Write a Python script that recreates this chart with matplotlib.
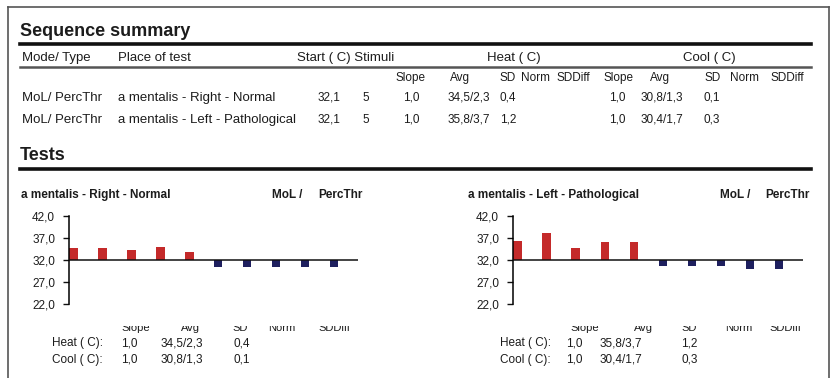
import matplotlib
matplotlib.use("Agg")
import matplotlib.pyplot as plt
from matplotlib.lines import Line2D
from matplotlib.patches import Rectangle
from matplotlib.ticker import FuncFormatter

plt.rcParams['font.family'] = ['Liberation Sans', 'DejaVu Sans']

# --- data ---
mode_types = ["MoL/ PercThr", "MoL/ PercThr"]
places = ["a mentalis - Right - Normal", "a mentalis - Left - Pathological"]
start_temp = ["32,1", "32,1"]
stimuli = ["5", "5"]
heat_slope = ["1,0", "1,0"]
heat_avg = ["34,5/2,3", "35,8/3,7"]
heat_sd = ["0,4", "1,2"]
cool_slope = ["1,0", "1,0"]
cool_avg = ["30,8/1,3", "30,4/1,7"]
cool_sd = ["0,1", "0,3"]

sub_headers = ["Slope", "Avg", "SD", "Norm", "SDDiff"]
y_ticks = [22.0, 27.0, 32.0, 37.0, 42.0]
baseline = 32.0

# bar values
normal_heat = [34.8, 34.8, 34.2, 34.9, 33.8]
normal_cool = [30.4, 30.4, 30.4, 30.4, 30.4]
patho_heat = [36.3, 38.1, 34.8, 36.0, 36.0]
patho_cool = [30.6, 30.6, 30.6, 30.0, 30.0]

W, H = 838, 378
RED = "#c42a2a"
NAVY = "#1e1f5e"
TXT = "#1c1c1c"


def fx(px):
    return px / W


def fy(py):
    return 1 - py / H


fig = plt.figure(figsize=(W / 100, H / 100), dpi=100)


def txt(x, y, s, size=9, weight="normal", ha="left", color=TXT):
    fig.text(fx(x), fy(y), s, fontsize=size, fontweight=weight, ha=ha, va="center", color=color)


def hline(x0, x1, y, lw, color="#111111"):
    fig.add_artist(Line2D([fx(x0), fx(x1)], [fy(y), fy(y)], lw=lw, color=color))


# page frame
fig.add_artist(Line2D([fx(8), fx(8)], [fy(378), fy(7)], lw=1.2, color="#555555"))
fig.add_artist(Line2D([fx(829), fx(829)], [fy(378), fy(7)], lw=1.2, color="#555555"))
hline(8, 829, 7, 1.2, "#555555")

# --- sequence summary table ---
txt(20, 31, "Sequence summary", size=13, weight="bold")
hline(20, 811, 44, 2.6)

txt(22, 58, "Mode/ Type", size=9.5)
txt(118, 58, "Place of test", size=9.5)
txt(297, 58, "Start ( C) Stimuli", size=9.5)
txt(487, 58, "Heat ( C)", size=9.5)
txt(683, 58, "Cool ( C)", size=9.5)
hline(20, 811, 67, 1.8, "#555555")

heat_hdr_x = [395, 450, 500, 521, 556]
cool_hdr_x = [603, 650, 704, 730, 770]
for x, s in zip(heat_hdr_x, sub_headers):
    txt(x, 78, s, size=8.5)
for x, s in zip(cool_hdr_x, sub_headers):
    txt(x, 78, s, size=8.5)

row_y = [98, 120]
for i, y in enumerate(row_y):
    txt(22, y, mode_types[i], size=9.5)
    txt(118, y, places[i], size=9.5)
    txt(318, y, start_temp[i], size=8.5)
    txt(362, y, stimuli[i], size=8.5)
    txt(403, y, heat_slope[i], size=8.5)
    txt(448, y, heat_avg[i], size=8.5)
    txt(500, y, heat_sd[i], size=8.5)
    txt(609, y, cool_slope[i], size=8.5)
    txt(641, y, cool_avg[i], size=8.5)
    txt(703, y, cool_sd[i], size=8.5)

txt(20, 156, "Tests", size=13, weight="bold")
hline(20, 811, 169, 2.6)

# --- test charts ---
panels = [
    dict(heat=normal_heat, cool=normal_cool, ax_x=(69, 358), title_x=21, tag_x=(272, 318),
         label_x=52, val_x=[121, 161, 233], hdr_x=[136, 190, 240, 282, 334]),
    dict(heat=patho_heat, cool=patho_cool, ax_x=(513, 803), title_x=468, tag_x=(720, 765),
         label_x=500, val_x=[566, 600, 681], hdr_x=[585, 643, 689, 739, 785]),
]
stats_heat = [(heat_slope[i], heat_avg[i], heat_sd[i]) for i in range(2)]
stats_cool = [(cool_slope[i], cool_avg[i], cool_sd[i]) for i in range(2)]

for k, p in enumerate(panels):
    x0, x1 = p["ax_x"]
    ax = fig.add_axes([fx(x0), fy(304), fx(x1) - fx(x0), fy(216) - fy(304)])
    ax.set_facecolor("none")
    vals = p["heat"] + p["cool"]
    colors = [RED] * len(p["heat"]) + [NAVY] * len(p["cool"])
    xs = list(range(len(vals)))
    ax.bar(xs, [v - baseline for v in vals], bottom=baseline, width=0.29, color=colors)
    ax.axhline(baseline, color="#111111", lw=1.1, zorder=3)
    ax.set_xlim(-0.16, 9.83)
    ax.set_ylim(22, 42)
    ax.set_yticks(y_ticks)
    ax.yaxis.set_major_formatter(FuncFormatter(lambda v, _: f"{v:.1f}".replace(".", ",")))
    ax.tick_params(axis="y", length=4, width=1, labelsize=8.5, colors="#111111", labelcolor=TXT, pad=6)
    ax.set_xticks([])
    for side in ["top", "right", "bottom"]:
        ax.spines[side].set_visible(False)
    ax.spines["left"].set_linewidth(1.1)

    txt(p["title_x"], 195, places[k], size=8.5, weight="bold")
    mode, thr = mode_types[k].split(" ")
    txt(p["tag_x"][0], 195, mode.replace("/", " /"), size=8.5, weight="bold")
    txt(p["tag_x"][1], 195, thr, size=8.5, weight="bold")

    # mini stats table under each chart (header row is cut off in the print)
    for x, s in zip(p["hdr_x"], sub_headers):
        txt(x, 328, s, size=8, ha="center")
    fig.add_artist(Rectangle((fx(x0 - 30), fy(326)), fx(x1 + 10) - fx(x0 - 30), fy(312) - fy(326),
                             facecolor="white", edgecolor="none", zorder=10))
    txt(p["label_x"], 343, "Heat ( C):", size=8.5)
    txt(p["label_x"], 360, "Cool ( C):", size=8.5)
    for x, s in zip(p["val_x"], stats_heat[k]):
        txt(x, 343, s, size=8.5)
    for x, s in zip(p["val_x"], stats_cool[k]):
        txt(x, 360, s, size=8.5)

fig.savefig("out.png", dpi=100)
